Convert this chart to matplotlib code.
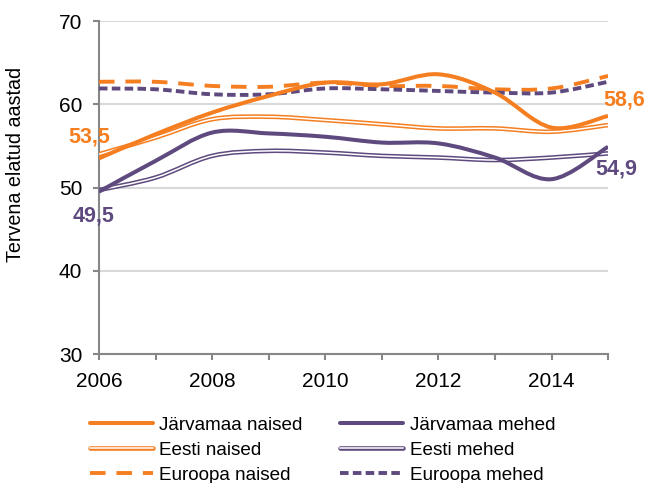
import matplotlib.pyplot as plt
from matplotlib.path import Path
from matplotlib.patches import PathPatch
from matplotlib.lines import Line2D

plt.rcParams['font.family'] = ['Liberation Sans', 'DejaVu Sans']

years = [2006, 2007, 2008, 2009, 2010, 2011, 2012, 2013, 2014, 2015]
jarvamaa_naised = [53.5, 56.4, 59.0, 61.0, 62.6, 62.4, 63.6, 61.4, 57.2, 58.6]
jarvamaa_mehed = [49.5, 53.2, 56.6, 56.5, 56.1, 55.4, 55.3, 53.6, 51.0, 54.9]
eesti_naised = [54.0, 56.0, 58.2, 58.5, 58.1, 57.6, 57.1, 57.1, 56.7, 57.5]
eesti_mehed = [49.7, 51.2, 53.8, 54.4, 54.2, 53.8, 53.6, 53.3, 53.6, 54.1]
euroopa_naised = [62.7, 62.7, 62.2, 62.1, 62.6, 62.2, 62.2, 61.8, 61.9, 63.4]
euroopa_mehed = [61.9, 61.8, 61.2, 61.2, 61.9, 61.8, 61.6, 61.4, 61.4, 62.7]

ORANGE = '#F57E20'
PURPLE = '#5E4A7E'
NAISED_DASH = (0, (4.0, 2.8))
MEHED_DASH = (0, (2.2, 1.1))


def smooth_path(xs, ys):
    # bezier segments through the points (like Excel's smoothed line)
    pts = list(zip(xs, ys))
    verts = [pts[0]]
    codes = [Path.MOVETO]
    n = len(pts)
    for i in range(n - 1):
        p0 = pts[i - 1] if i > 0 else pts[i]
        p1 = pts[i]
        p2 = pts[i + 1]
        p3 = pts[i + 2] if i + 2 < n else pts[i + 1]
        c1 = (p1[0] + (p2[0] - p0[0]) / 6, p1[1] + (p2[1] - p0[1]) / 6)
        c2 = (p2[0] - (p3[0] - p1[0]) / 6, p2[1] - (p3[1] - p1[1]) / 6)
        verts += [c1, c2, p2]
        codes += [Path.CURVE4] * 3
    return Path(verts, codes)


def draw(ax, ys, color, lw, ls='-', z=3):
    ax.add_patch(PathPatch(smooth_path(years, ys), fill=False, edgecolor=color,
                           linewidth=lw, linestyle=ls, capstyle='butt', zorder=z))


fig = plt.figure(figsize=(6.49, 4.83), dpi=100)
ax = fig.add_axes([0.1525, 0.267, 0.7845, 0.6895])

draw(ax, eesti_naised, ORANGE, 3.3)
draw(ax, eesti_naised, 'white', 1.1, z=3.1)
draw(ax, eesti_mehed, PURPLE, 3.3)
draw(ax, eesti_mehed, 'white', 1.1, z=3.1)
draw(ax, euroopa_naised, ORANGE, 2.8, NAISED_DASH, z=3.2)
draw(ax, euroopa_mehed, PURPLE, 2.8, MEHED_DASH, z=3.2)
draw(ax, jarvamaa_mehed, PURPLE, 2.9, z=3.3)
draw(ax, jarvamaa_naised, ORANGE, 2.9, z=3.4)

ax.set_xlim(2006, 2015)
ax.set_ylim(30, 70)
ax.set_yticks([30, 40, 50, 60, 70])
ax.set_xticks(years)
ax.set_xticklabels([str(y) if y % 2 == 0 and y < 2015 else '' for y in years])
ax.grid(axis='y', color='#D9D9D9', linewidth=1.5)
ax.set_axisbelow(True)
for s in ['top', 'right']:
    ax.spines[s].set_visible(False)
for s in ['left', 'bottom']:
    ax.spines[s].set_color('#878787')
    ax.spines[s].set_linewidth(1.5)
ax.tick_params(axis='both', colors='#878787', width=1.5, length=4, labelsize=15,
               labelcolor='black')
ax.tick_params(axis='x', pad=9)
ax.tick_params(axis='y', pad=8)
ax.set_ylabel('Tervena elatud aastad', fontsize=14.2)
ax.yaxis.set_label_coords(-0.146, 0.57)

ax.text(2005.82, 56.1, '53,5', color=ORANGE, fontsize=15.5, fontweight='bold',
        ha='center', va='center', clip_on=False)
ax.text(2005.91, 46.6, '49,5', color=PURPLE, fontsize=15.5, fontweight='bold',
        ha='center', va='center', clip_on=False)
ax.text(2015.28, 60.5, '58,6', color=ORANGE, fontsize=15.5, fontweight='bold',
        ha='center', va='center', clip_on=False)
ax.text(2015.14, 52.2, '54,9', color=PURPLE, fontsize=15.5, fontweight='bold',
        ha='center', va='center', clip_on=False)

handles = [
    Line2D([], [], color=ORANGE, lw=2.9, solid_capstyle='round'),
    (Line2D([], [], color=ORANGE, lw=3.3, solid_capstyle='round'),
     Line2D([], [], color='white', lw=1.1)),
    Line2D([], [], color=ORANGE, lw=2.8, ls=NAISED_DASH),
    Line2D([], [], color=PURPLE, lw=2.9, solid_capstyle='round'),
    (Line2D([], [], color=PURPLE, lw=3.3, solid_capstyle='round'),
     Line2D([], [], color='white', lw=1.1)),
    Line2D([], [], color=PURPLE, lw=2.8, ls=MEHED_DASH),
]
labels = ['Järvamaa naised', 'Eesti naised', 'Euroopa naised',
          'Järvamaa mehed', 'Eesti mehed', 'Euroopa mehed']
fig.legend(handles, labels, ncol=2, loc='upper left', bbox_to_anchor=(0.138, 0.137),
           frameon=False, fontsize=13.6, handlelength=3.35, handletextpad=0.35,
           labelspacing=0.4, columnspacing=1.95, borderaxespad=0, borderpad=0)

fig.savefig('out.png', dpi=100)
